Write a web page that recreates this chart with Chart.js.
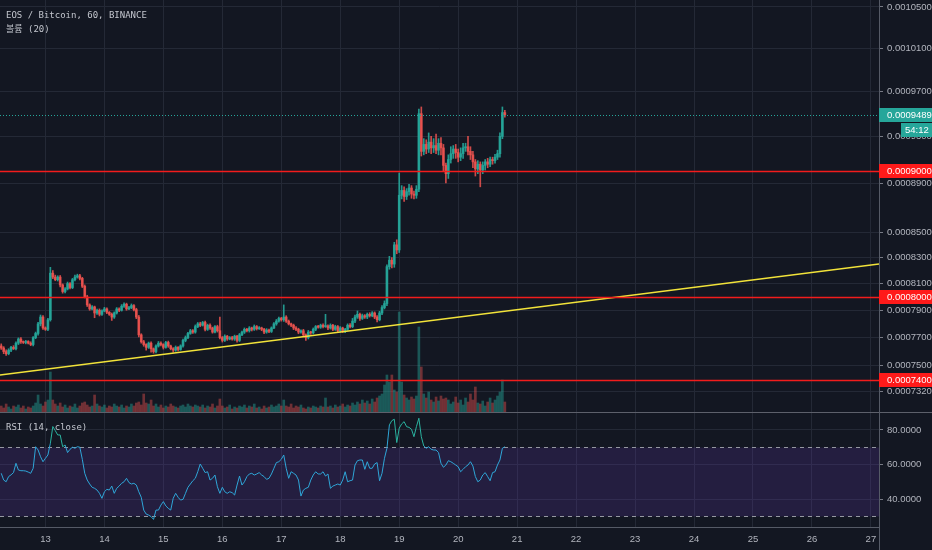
<!DOCTYPE html>
<html>
<head>
<meta charset="utf-8">
<script src="https://cdn.jsdelivr.net/npm/chart.js@4.4.1/dist/chart.umd.min.js"></script>
<style>
  body { margin: 0; background: #131722; width: 932px; height: 550px; overflow: hidden; position: relative; }
  canvas { position: absolute; left: 0; }
  #top { top: 0; }
  #bot { top: 412px; }
  .lbl { position: absolute; left: 6px; color: #c3c6ce; font: 9px/11px 'DejaVu Sans Mono', 'Noto Sans CJK KR', monospace; white-space: nowrap; }
</style>
</head>
<body>
<canvas id="top" width="932" height="412"></canvas>
<canvas id="bot" width="932" height="138"></canvas>
<div class="lbl" style="top:10px">EOS / Bitcoin, 60, BINANCE</div>
<div class="lbl" style="top:24px">볼륨 (20)</div>
<div class="lbl" style="top:422px">RSI (14, close)</div>
<script>
// prices are in units of 0.0000001 BTC, hours counted from Dec 13 00:00
const dayTicks = [13, 14, 15, 16, 17, 18, 19, 20, 21, 22, 23, 24, 25, 26, 27];
const priceTicks = [10500, 10100, 9700, 9300, 8900, 8500, 8300, 8100, 7900, 7700, 7500, 7320];
const rsiTicks = [80, 60, 40];
const levels = [9000, 8000, 7400];
const lastPrice = 9489;
const countdown = '54:12';
const firstHour = -18;
const firstOpen = 7640;

const closes = [
  7625, 7600, 7585, 7610, 7630, 7620, 7660, 7690, 7670, 7665,
  7672, 7660, 7650, 7700, 7730, 7800, 7850, 7770, 7760, 7830,
  8180, 8150, 8130, 8150, 8090, 8040, 8060, 8100, 8070, 8130,
  8150, 8160, 8140, 8080, 8000, 7940, 7910, 7925, 7880, 7900,
  7870, 7895, 7910, 7885, 7870, 7850, 7880, 7910, 7900, 7930,
  7945, 7910, 7920, 7935, 7905, 7850, 7720, 7670, 7650, 7630,
  7660, 7620, 7600, 7640, 7660, 7650, 7630, 7665, 7640, 7620,
  7610, 7630, 7615, 7640, 7680, 7700, 7730, 7750, 7740, 7780,
  7800, 7790, 7810, 7760, 7790, 7770, 7740, 7780, 7750, 7700,
  7680, 7710, 7690, 7700, 7690, 7710, 7680, 7720, 7740, 7760,
  7750, 7770, 7760, 7780, 7765, 7770, 7760, 7740, 7755, 7745,
  7770, 7800, 7820, 7840, 7830, 7850, 7820, 7800, 7790, 7770,
  7760, 7740, 7750, 7720, 7700, 7740, 7735, 7760, 7780, 7775,
  7790, 7780, 7785, 7770, 7790, 7760, 7780, 7750, 7770, 7745,
  7760, 7790, 7780, 7820, 7850, 7870, 7840, 7860, 7850, 7870,
  7860, 7880, 7850, 7830, 7880, 7920, 7950, 8230, 8280, 8250,
  8400, 8360, 8800, 8840, 8790, 8830, 8860, 8810, 8800, 8850,
  9500, 9170, 9230, 9190, 9250, 9200, 9220, 9180, 9240, 9200,
  9050, 8980, 9100, 9150, 9190, 9160, 9120, 9150, 9200, 9210,
  9170, 9140, 9080, 9020, 9060, 9010, 9050, 9080, 9060, 9100,
  9090, 9120, 9150, 9300, 9510, 9489
];
const upWick = [
  15, 10, 12, 10, 8, 12, 10, 8, 10, 6,
  8, 6, 10, 8, 10, 12, 15, 10, 8, 10,
  45, 20, 15, 10, 12, 8, 10, 12, 8, 10,
  15, 12, 10, 8, 10, 12, 8, 10, 6, 8,
  10, 8, 12, 8, 6, 10, 8, 10, 8, 12,
  10, 8, 10, 12, 8, 10, 12, 8, 10, 6,
  8, 10, 6, 8, 12, 10, 6, 8, 10, 6,
  8, 10, 6, 8, 10, 12, 8, 10, 8, 12,
  10, 12, 8, 10, 8, 10, 6, 8, 10, 100,
  8, 10, 6, 8, 10, 8, 6, 10, 8, 10,
  8, 10, 6, 12, 8, 10, 6, 8, 10, 6,
  8, 10, 12, 10, 8, 90, 10, 8, 6, 8,
  10, 8, 6, 10, 8, 12, 6, 10, 8, 10,
  8, 10, 85, 8, 10, 6, 10, 8, 10, 6,
  8, 10, 12, 20, 15, 25, 10, 12, 8, 10,
  12, 10, 8, 10, 12, 15, 20, 15, 30, 20,
  20, 40, 186, 40, 30, 25, 30, 20, 25, 30,
  40, 60, 50, 40, 80, 50, 60, 100, 40, 50,
  30, 20, 40, 60, 30, 40, 30, 50, 40, 30,
  90, 40, 30, 20, 30, 20, 30, 20, 30, 20,
  20, 25, 30, 30, 50, 20
];
const downWick = [
  10, 15, 12, 8, 10, 6, 8, 10, 12, 8,
  10, 6, 8, 10, 8, 12, 15, 10, 8, 10,
  10, 12, 8, 10, 15, 12, 10, 8, 10, 8,
  10, 8, 12, 10, 8, 12, 10, 8, 35, 10,
  12, 8, 6, 10, 8, 25, 10, 8, 10, 6,
  8, 10, 6, 8, 10, 12, 15, 10, 12, 20,
  8, 25, 12, 10, 8, 10, 12, 6, 10, 8,
  15, 8, 10, 6, 8, 10, 8, 6, 10, 8,
  8, 10, 6, 12, 8, 10, 8, 6, 10, 10,
  12, 8, 10, 6, 8, 10, 12, 8, 6, 10,
  8, 10, 12, 8, 10, 6, 10, 12, 8, 10,
  8, 6, 10, 8, 10, 12, 10, 8, 10, 12,
  10, 12, 8, 15, 20, 10, 12, 8, 10, 6,
  8, 10, 6, 12, 8, 10, 8, 12, 10, 8,
  10, 8, 10, 8, 12, 10, 15, 8, 10, 12,
  10, 8, 12, 15, 8, 12, 10, 15, 20, 30,
  25, 30, 20, 30, 40, 25, 30, 35, 30, 25,
  20, 40, 30, 40, 30, 50, 40, 30, 40, 60,
  50, 77, 40, 30, 40, 50, 40, 30, 40, 30,
  30, 40, 50, 60, 40, 140, 30, 40, 30, 20,
  30, 20, 20, 30, 20, 20
];
const volumes = [
  6, 4, 8, 5, 3, 6, 5, 7, 4, 6,
  3, 5, 4, 6, 9, 17, 8, 6, 10, 12,
  40, 12, 8, 6, 9, 5, 7, 4, 6, 5,
  8, 4, 6, 9, 10, 7, 5, 6, 17, 8,
  6, 5, 7, 4, 6, 5, 8, 6, 5, 7,
  4, 6, 5, 8, 6, 9, 10, 7, 18, 9,
  8, 12, 6, 8, 5, 7, 4, 6, 5, 8,
  6, 5, 4, 6, 7, 5, 8, 6, 5, 7,
  6, 5, 7, 4, 6, 5, 8, 4, 6, 13,
  6, 4, 5, 7, 3, 5, 4, 6, 5, 7,
  4, 6, 5, 8, 4, 5, 3, 6, 4, 5,
  7, 5, 6, 8, 6, 12, 6, 5, 8, 4,
  6, 5, 7, 4, 3, 5, 4, 6, 5, 4,
  6, 5, 14, 5, 6, 4, 7, 5, 6, 8,
  5, 7, 6, 9, 7, 10, 8, 12, 9, 11,
  8, 13, 10, 14, 16, 18, 27, 37, 30, 37,
  22, 20, 100, 30, 17, 14, 12, 15, 13, 16,
  85, 45, 18, 14, 20, 12, 10, 15, 11, 16,
  13, 14, 12, 8, 10, 15, 9, 12, 7, 14,
  10, 18, 12, 25, 9, 8, 11, 6, 10, 14,
  9, 12, 16, 20, 32, 10
];
const rsi = [
  54.9, 51, 50, 53, 54, 55.3, 60.7, 56.8, 56.4, 56.4,
  56.2, 55.6, 54.9, 57.8, 70.3, 68.4, 64.5, 61.6, 63.6, 65.5,
  72.3, 82, 79.6, 77.1, 77.1, 70.3, 71.3, 66.9, 68.8, 70,
  69.4, 70.3, 70, 63, 54.9, 51, 48.7, 46.8, 46.2, 45.2,
  43.3, 40.4, 44.2, 45.6, 45.2, 47.5, 43.3, 46.2, 47.5, 49.1,
  50, 52, 49.5, 48.7, 49.1, 48.1, 44.2, 41, 33.6, 31.3,
  30.7, 29.8, 28.2, 33.6, 33.6, 36.5, 38.5, 36, 34.6, 33.6,
  40.4, 43.3, 41, 39.4, 39.8, 43.3, 46.8, 48.7, 50.6, 52,
  55.8, 60.3, 57.8, 55.3, 55.8, 51, 52, 53.9, 47.1, 43.3,
  46.8, 44.2, 43.3, 44.2, 43.7, 42.3, 48.1, 53.3, 48.1, 50,
  53, 54.5, 54.9, 53.9, 54.5, 55.3, 53.9, 53, 51.4, 52,
  54.5, 57.8, 61.1, 61.6, 63, 65.5, 57.8, 52, 55.8, 54.9,
  53.9, 51, 41.7, 45.2, 46.2, 46.8, 51, 53.9, 55.8, 54.5,
  54.5, 55.8, 53.3, 54.5, 46.2, 47.5, 48.1, 48.7, 48.1, 51,
  55.8, 50, 50.6, 51, 59.7, 62.2, 62.6, 62.6, 57.2, 61.6,
  57.8, 57.8, 60.3, 61.1, 50.6, 54.9, 63.6, 69.4, 82.9, 85.4,
  86.2, 72.7, 81, 83.5, 84.8, 81.9, 81.5, 80.4, 76.1, 81.9,
  86.8, 76.1, 70.7, 69.4, 70.3, 68.8, 68.4, 68.4, 66.9, 60.7,
  58.4, 59.7, 62.2, 61.6, 60.7, 59.7, 58.7, 55.8, 57.2, 58.7,
  59.7, 61.6, 59.1, 53, 50, 51, 53.9, 55.3, 53, 50.6,
  55.3, 55.8, 59.7, 62.6, 69.4, 70.3
];
// yellow trend line, two anchor points (hour, price)
const trendHours = [-18.5, 339.3];
const trendPrices = [7435, 8251];

const X_MIN = -18.5, X_MAX = 339.3;
const UP = '#26a69a', DOWN = '#ef5350';
const GRID = '#242936', AXIS = '#555a66', TXT = '#b2b5be';
const FONT = { family: "'Liberation Sans', Arial, sans-serif", size: 9.5 };

const hours = closes.map((c, i) => firstHour + i);
const opens = closes.map((c, i) => i ? closes[i - 1] : firstOpen);
const colors = closes.map((c, i) => c >= opens[i] ? 'rgba(38,166,154,0.9)' : 'rgba(239,83,80,0.85)');
const volColors = closes.map((c, i) => c >= opens[i] ? 'rgba(38,166,154,0.45)' : 'rgba(239,83,80,0.42)');

const noPad = s => { s.paddingTop = 0; s.paddingBottom = 0; s.paddingLeft = 0; s.paddingRight = 0; };

function xAxis(showLabels) {
  return {
    type: 'linear', min: X_MIN, max: X_MAX, offset: false,
    afterBuildTicks: s => { s.ticks = dayTicks.map(d => ({ value: (d - 13) * 24 })); },
    ticks: { display: showLabels, color: TXT, font: FONT, padding: 7, autoSkip: false, maxRotation: 0,
             callback: v => String(13 + v / 24) },
    grid: { color: GRID, drawTicks: false, offset: false },
    border: { display: showLabels, color: AXIS },
    afterFit: s => { s.height = showLabels ? 23 : 0; noPad(s); }
  };
}

const priceOverlay = {
  id: 'priceOverlay',
  afterDatasetsDraw(chart) {
    const { ctx, chartArea: a, scales: { y } } = chart;
    ctx.save();
    ctx.strokeStyle = '#f21c1c';
    ctx.lineWidth = 1.5;
    levels.forEach(p => {
      const py = Math.round(y.getPixelForValue(p)) + 0.5;
      ctx.beginPath(); ctx.moveTo(a.left, py); ctx.lineTo(a.right, py); ctx.stroke();
    });
    const ly = Math.round(y.getPixelForValue(lastPrice)) + 0.5;
    ctx.strokeStyle = UP; ctx.lineWidth = 1; ctx.setLineDash([1, 2]);
    ctx.beginPath(); ctx.moveTo(a.left, ly); ctx.lineTo(a.right, ly); ctx.stroke();
    ctx.restore();
  },
  afterDraw(chart) {
    const { ctx, chartArea: a, scales: { y } } = chart;
    ctx.save();
    ctx.font = "9.5px 'Liberation Sans', Arial, sans-serif";
    ctx.textBaseline = 'middle';
    const box = (py, bg, text, x0, w) => {
      ctx.fillStyle = bg; ctx.fillRect(x0, Math.round(py) - 7, w, 14);
      ctx.fillStyle = '#ffffff'; ctx.fillText(text, x0 + 8, Math.round(py) + 0.5);
    };
    levels.forEach(p => box(y.getPixelForValue(p), '#ff1a1a', (p * 1e-7).toFixed(7), a.right, 53));
    const ly = y.getPixelForValue(lastPrice);
    box(ly, UP, (lastPrice * 1e-7).toFixed(7), a.right, 53);
    ctx.fillStyle = UP; ctx.fillRect(a.right + 22, Math.round(ly) + 8, 31, 14);
    ctx.fillStyle = '#ffffff'; ctx.fillText(countdown, a.right + 26, Math.round(ly) + 15.5);
    ctx.restore();
  }
};

new Chart(document.getElementById('top'), {
  type: 'bar',
  data: {
    datasets: [
      { type: 'bar', data: volumes.map((v, i) => ({ x: hours[i], y: v })), yAxisID: 'yv',
        backgroundColor: volColors, barThickness: 2, grouped: false, order: 3 },
      { type: 'bar', data: closes.map((c, i) => ({ x: hours[i], y: [Math.min(opens[i], c) - downWick[i], Math.max(opens[i], c) + upWick[i]] })),
        yAxisID: 'y', backgroundColor: colors, barThickness: 1, grouped: false, order: 2 },
      { type: 'bar', data: closes.map((c, i) => ({ x: hours[i], y: [opens[i], c] })),
        yAxisID: 'y', backgroundColor: colors, barThickness: 2, grouped: false, minBarLength: 1, order: 1 },
      { type: 'line', data: trendHours.map((h, i) => ({ x: h, y: trendPrices[i] })), yAxisID: 'y',
        borderColor: '#f2e33a', borderWidth: 1.5, pointRadius: 0, order: 0 }
    ]
  },
  options: {
    responsive: false, animation: false, events: [],
    layout: { padding: 0 },
    plugins: { legend: { display: false }, tooltip: { enabled: false } },
    scales: {
      x: xAxis(false),
      y: {
        type: 'logarithmic', position: 'right', min: 7181, max: 10569,
        afterBuildTicks: s => { s.ticks = priceTicks.map(v => ({ value: v })); },
        afterFit: s => { s.width = 53; noPad(s); },
        ticks: { color: TXT, font: FONT, padding: 4, autoSkip: false, callback: v => (v * 1e-7).toFixed(7) },
        grid: { color: GRID, tickColor: '#787b86', tickLength: 4 },
        border: { color: AXIS }
      },
      yv: { type: 'linear', display: false, min: 0, max: 412 }
    }
  },
  plugins: [priceOverlay]
});

const rsiOverlay = {
  id: 'rsiOverlay',
  beforeDatasetsDraw(chart) {
    const { ctx, chartArea: a, scales: { y } } = chart;
    const y70 = Math.round(y.getPixelForValue(70)) + 0.5, y30 = Math.round(y.getPixelForValue(30)) + 0.5;
    ctx.save();
    ctx.fillStyle = 'rgba(103,58,183,0.2)';
    ctx.fillRect(a.left, y70, a.right - a.left, y30 - y70);
    ctx.strokeStyle = '#9598a1'; ctx.lineWidth = 1; ctx.setLineDash([4, 4]);
    [y70, y30].forEach(py => { ctx.beginPath(); ctx.moveTo(a.left, py); ctx.lineTo(a.right, py); ctx.stroke(); });
    ctx.restore();
  },
  afterDraw(chart) {
    const { ctx, chartArea: a } = chart;
    ctx.save();
    ctx.strokeStyle = '#5d606b'; ctx.lineWidth = 1;
    ctx.beginPath(); ctx.moveTo(0, 0.5); ctx.lineTo(chart.width, 0.5); ctx.stroke();
    ctx.strokeStyle = AXIS;
    ctx.beginPath(); ctx.moveTo(a.right + 0.5, 0); ctx.lineTo(a.right + 0.5, chart.height); ctx.stroke();
    ctx.restore();
  }
};

new Chart(document.getElementById('bot'), {
  type: 'line',
  data: {
    datasets: [{
      data: rsi.map((v, i) => ({ x: hours[i], y: v })),
      borderColor: '#2fa6d8', borderWidth: 1, pointRadius: 0,
      segment: { borderColor: c => (c.p0.parsed.y > 70 && c.p1.parsed.y > 70) ? '#2bb3a0' : undefined }
    }]
  },
  options: {
    responsive: false, animation: false, events: [],
    layout: { padding: 0 },
    plugins: { legend: { display: false }, tooltip: { enabled: false } },
    scales: {
      x: xAxis(true),
      y: {
        position: 'right', min: 23.8, max: 90.4,
        afterBuildTicks: s => { s.ticks = rsiTicks.map(v => ({ value: v })); },
        afterFit: s => { s.width = 53; noPad(s); },
        ticks: { color: TXT, font: FONT, padding: 4, callback: v => v.toFixed(4) },
        grid: { color: GRID, tickColor: '#787b86', tickLength: 4 },
        border: { color: AXIS }
      }
    }
  },
  plugins: [rsiOverlay]
});
</script>
</body>
</html>
